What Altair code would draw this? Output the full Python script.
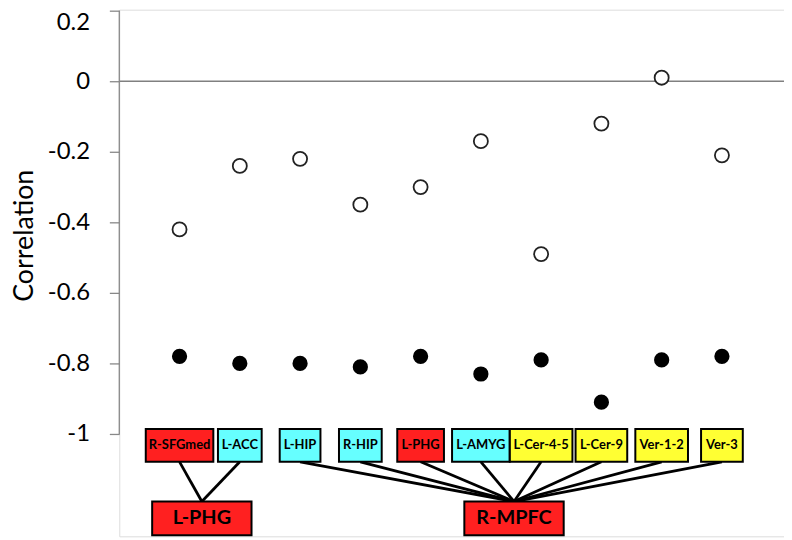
import altair as alt
import pandas as pd

# ---------------- data ----------------
regions = ["R-SFGmed", "L-ACC", "L-HIP", "R-HIP", "L-PHG", "L-AMYG",
           "L-Cer-4-5", "L-Cer-9", "Ver-1-2", "Ver-3"]
open_r = [-0.42, -0.24, -0.22, -0.35, -0.30, -0.17, -0.49, -0.12, 0.01, -0.21]
filled_r = [-0.78, -0.80, -0.80, -0.81, -0.78, -0.83, -0.79, -0.91, -0.79, -0.78]
region_kind = ["red", "cyan", "cyan", "cyan", "red", "cyan",
               "yellow", "yellow", "yellow", "yellow"]
seed_of = ["L-PHG", "L-PHG"] + ["R-MPFC"] * 8
seeds = ["L-PHG", "R-MPFC"]
y_ticks = [-1, -0.8, -0.6, -0.4, -0.2, 0, 0.2]

# ---------------- layout ----------------
W, H = 669, 530
X_MAX = 11.03
STEP = W / X_MAX
BOX_W_PX = [68, 44, 41, 43, 47, 58, 63, 52, 53, 42]
GROUP_X = {"L-PHG": 1.37, "R-MPFC": 6.55}
GROUP_W_PX = 100
BOX_TOP, BOX_BOT = -0.986, -1.079
GBOX_TOP, GBOX_BOT = -1.1915, -1.2873
FONT = "Lato"
KIND_COLORS = {"red": "#FF2020", "cyan": "#66FFFF", "yellow": "#FFFF33"}

df = pd.DataFrame({
    "region": regions,
    "idx": list(range(1, len(regions) + 1)),
    "open": open_r,
    "filled": filled_r,
    "kind": region_kind,
    "seed": seed_of,
})
df["x_lo"] = df["idx"] - pd.Series(BOX_W_PX) / 2 / STEP
df["x_hi"] = df["idx"] + pd.Series(BOX_W_PX) / 2 / STEP
df["gx"] = df["seed"].map(GROUP_X)
df["b_top"] = BOX_TOP
df["b_bot"] = BOX_BOT
df["b_mid"] = (BOX_TOP + BOX_BOT) / 2
df["g_top"] = GBOX_TOP

gdf = pd.DataFrame({"seed": seeds, "gx": [GROUP_X[s] for s in seeds]})
gdf["x_lo"] = gdf["gx"] - GROUP_W_PX / 2 / STEP
gdf["x_hi"] = gdf["gx"] + GROUP_W_PX / 2 / STEP
gdf["g_top"] = GBOX_TOP
gdf["g_bot"] = GBOX_BOT
gdf["g_mid"] = (GBOX_TOP + GBOX_BOT) / 2

xs = alt.Scale(domain=[0, X_MAX], nice=False, zero=False)
ys = alt.Scale(domain=[-1.29014, 0.20282], nice=False, zero=False)

yaxis = alt.Axis(
    values=y_ticks, domain=False, grid=False,
    tickSize=10, tickColor="#888888", tickWidth=1.3,
    labelFont=FONT, labelFontSize=24, labelColor="black", labelPadding=20,
    labelExpr="toString(round(datum.value*10)/10)",
    labelOffset={"condition": {"test": "datum.value == 0.2", "value": 12}, "value": 0},
    title="Correlation", titleFont=FONT, titleFontSize=27, titleFontWeight="normal",
    titleColor="black", titleAngle=270, titleX=-95, titleY=227,
    titleAlign="center", titleBaseline="middle",
)


def Y(field):
    return alt.Y(field, scale=ys, axis=yaxis, title="Correlation")


def X(field):
    return alt.X(field, scale=xs, axis=None)


base = alt.Chart(df)

zero_line = alt.Chart(pd.DataFrame({"v": [0]})).mark_rule(
    color="#808080", strokeWidth=1.3
).encode(y=Y("v:Q"))

axis_line = alt.Chart(pd.DataFrame({"lo": [-1], "hi": [0.2]})).mark_rule(
    color="#888888", strokeWidth=1.3
).encode(
    x=alt.value(0),
    y=Y("lo:Q"),
    y2="hi:Q",
)

open_pts = base.mark_point(
    shape="circle", filled=True, fill="white", stroke="#222222",
    strokeWidth=1.8, size=200, opacity=1
).encode(x=X("idx:Q"), y=Y("open:Q"))

filled_pts = base.mark_circle(color="black", size=235, opacity=1).encode(
    x=X("idx:Q"), y=Y("filled:Q"),
)

links = base.mark_rule(color="black", strokeWidth=2.8).encode(
    x=X("idx:Q"), x2="gx:Q",
    y=Y("b_bot:Q"), y2="g_top:Q",
)

boxes = base.mark_rect(stroke="black", strokeWidth=2).encode(
    x=X("x_lo:Q"), x2="x_hi:Q",
    y=Y("b_top:Q"), y2="b_bot:Q",
    fill=alt.Fill("kind:N", scale=alt.Scale(domain=list(KIND_COLORS.keys()),
                                            range=list(KIND_COLORS.values())),
                  legend=None),
)

box_text = base.mark_text(font=FONT, fontWeight="bold", fontSize=13,
                          color="black", baseline="middle", align="center").encode(
    x=X("idx:Q"), y=Y("b_mid:Q"), text="region:N",
)

gboxes = alt.Chart(gdf).mark_rect(stroke="black", strokeWidth=2, fill="#FF2020").encode(
    x=X("x_lo:Q"), x2="x_hi:Q",
    y=Y("g_top:Q"), y2="g_bot:Q",
)

gtext = alt.Chart(gdf).mark_text(font=FONT, fontWeight="bold", fontSize=20,
                                 color="black", baseline="middle", align="center").encode(
    x=X("gx:Q"), y=Y("g_mid:Q"), text="seed:N",
)

chart = alt.layer(
    zero_line, axis_line, open_pts, links, boxes, box_text, gboxes, gtext, filled_pts,
).properties(
    width=W, height=H,
    autosize=alt.AutoSizeParams(type="none"),
    padding={"left": 112, "top": 0, "right": 0, "bottom": 0},
).configure_view(stroke="transparent", strokeWidth=0).configure(background="white")

chart.save("out.html", embed_options={"renderer": "svg", "actions": False})
